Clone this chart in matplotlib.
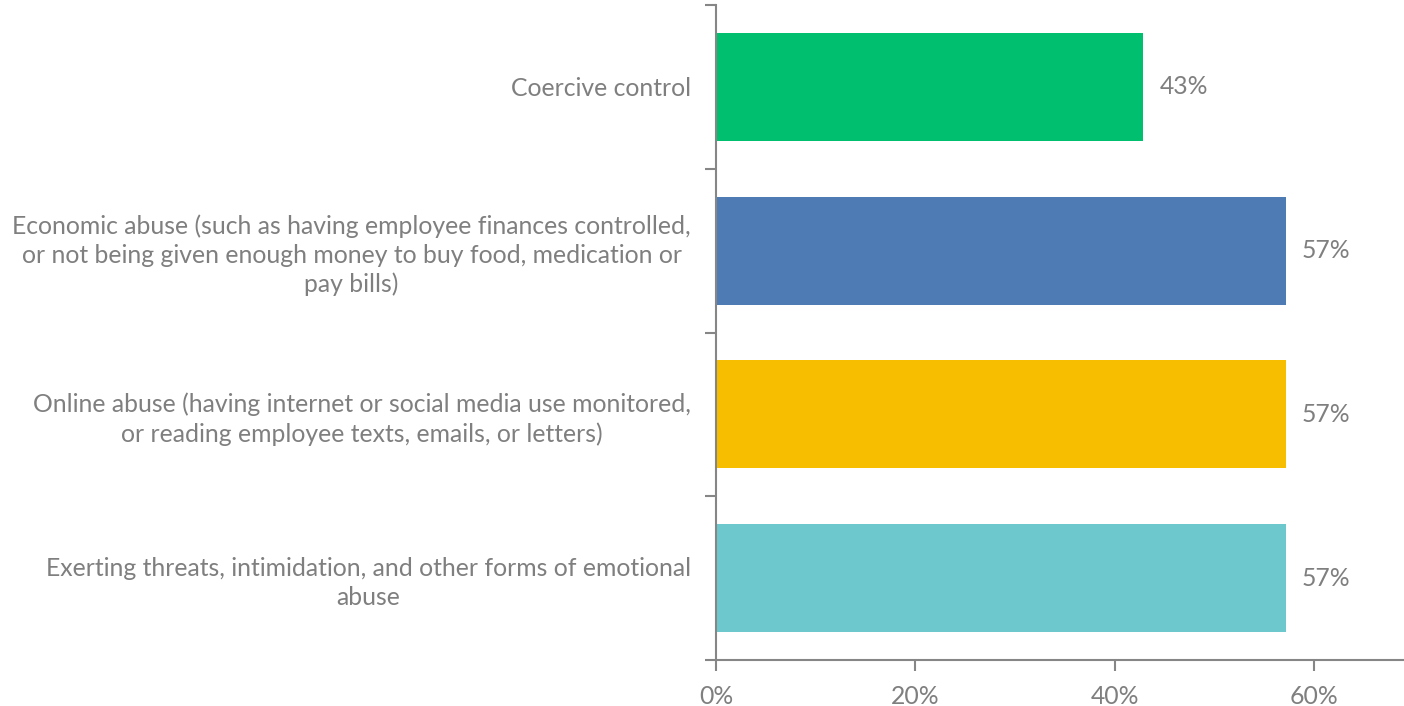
import matplotlib
matplotlib.use("Agg")
import matplotlib.pyplot as plt
from matplotlib.ticker import FixedLocator, PercentFormatter

categories = [
    "Coercive control",
    "Economic abuse (such as having employee finances controlled,\nor not being given enough money to buy food, medication or\npay bills)",
    "Online abuse (having internet or social media use monitored,\nor reading employee texts, emails, or letters)",
    "Exerting threats, intimidation, and other forms of emotional\nabuse",
]
values = [3 / 7, 4 / 7, 4 / 7, 4 / 7]
colors = ["#00BF6F", "#4F7BB5", "#F7BE00", "#6CC8CC"]

plt.rcParams["font.family"] = ["Lato", "DejaVu Sans"]
text_gray = "#7F7F7F"
axis_gray = "#868686"
fs = 17.8

fig = plt.figure(figsize=(14.04, 7.06), dpi=100)
ax = fig.add_axes([716 / 1404, 1 - 660 / 706, 1 - 716 / 1404, (660 - 5) / 706])

ypos = list(range(len(categories)))
ax.barh(ypos, values, height=0.66, color=colors)

ax.set_ylim(len(categories) - 0.5, -0.5)
ax.set_xlim(0, 0.69)

for y, v in zip(ypos, values):
    ax.text(v + 0.016, y, f"{v:.0%}", va="center", ha="left", fontsize=fs, color=text_gray)

# category boundaries get tick marks; labels sit at the centers
ax.yaxis.set_major_locator(FixedLocator([i - 0.5 for i in range(len(categories) + 1)]))
ax.yaxis.set_major_formatter(plt.NullFormatter())
ax.yaxis.set_minor_locator(FixedLocator(ypos))
ax.set_yticklabels(categories, minor=True)
ax.tick_params(axis="y", which="minor", length=0, pad=18, labelsize=fs, labelcolor=text_gray)
for lbl in ax.get_yticklabels(minor=True):
    lbl.set_multialignment("center")
    lbl.set_linespacing(1.3)
ax.tick_params(axis="y", which="major", length=8, width=1.5, color=axis_gray, direction="out")

ax.xaxis.set_major_locator(FixedLocator([0, 0.2, 0.4, 0.6]))
ax.xaxis.set_major_formatter(PercentFormatter(1.0, decimals=0))
ax.tick_params(axis="x", length=8, width=1.5, color=axis_gray, direction="out",
               labelsize=fs, labelcolor=text_gray, pad=10)

for side in ("top", "right"):
    ax.spines[side].set_visible(False)
for side in ("left", "bottom"):
    ax.spines[side].set_color(axis_gray)
    ax.spines[side].set_linewidth(1.5)

fig.savefig("out.png", dpi=100, facecolor="white")
